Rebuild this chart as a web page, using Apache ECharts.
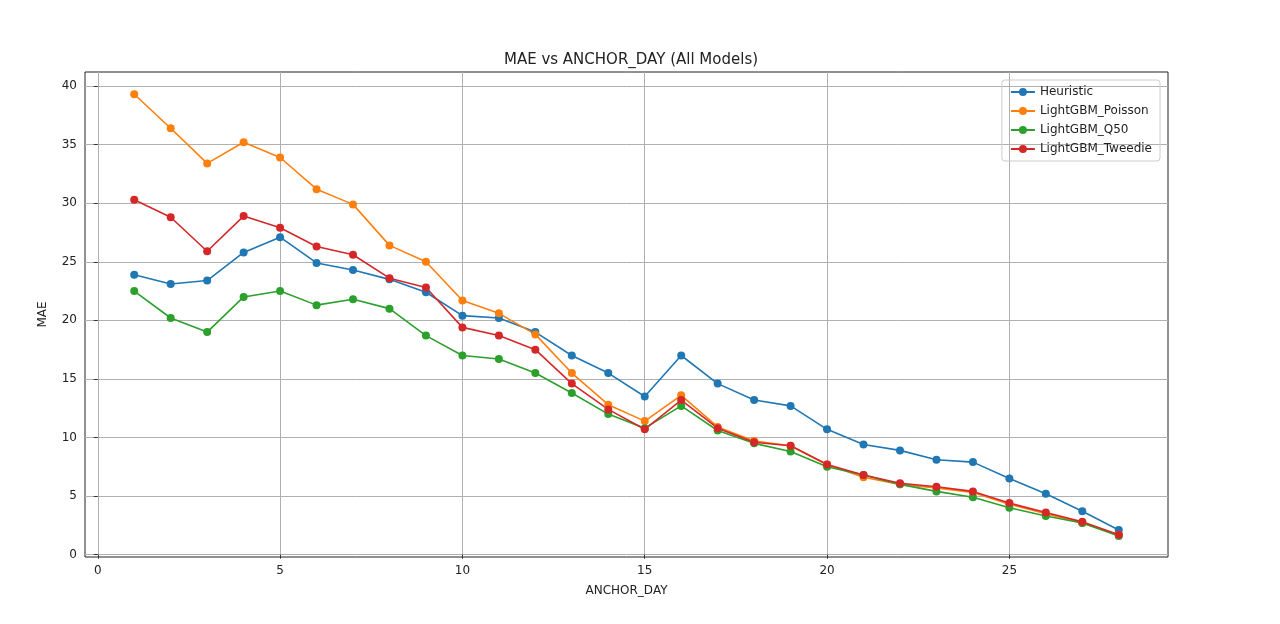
<!DOCTYPE html>
<html lang="en">
<head>
<meta charset="UTF-8">
<title>MAE vs ANCHOR_DAY</title>
<script src="https://cdn.jsdelivr.net/npm/echarts@6/dist/echarts.min.js"></script>
<style>
	html,body{margin:0;width:100%;height:100%;background:#fff;}
	#chart{width:1280px;height:624px;}
</style>
</head>
<body>
<div id="chart"></div>
<script>
	var days = [];
	for (var d = 1; d <= 28; d++) days.push(d);
	var xTicks = [0, 5, 10, 15, 20, 25];
	var yTicks = [0, 5, 10, 15, 20, 25, 30, 35, 40];

	var heuristic = [23.9, 23.1, 23.4, 25.8, 27.1, 24.9, 24.3, 23.5, 22.4, 20.4, 20.2, 19.0, 17.0, 15.5, 13.5, 17.0, 14.6, 13.2, 12.7, 10.7, 9.4, 8.9, 8.1, 7.9, 6.5, 5.2, 3.7, 2.1];
	var poisson = [39.3, 36.4, 33.4, 35.2, 33.9, 31.2, 29.9, 26.4, 25.0, 21.7, 20.6, 18.8, 15.5, 12.8, 11.4, 13.6, 10.9, 9.7, 9.3, 7.7, 6.6, 6.0, 5.7, 5.3, 4.3, 3.5, 2.7, 1.7];
	var q50 = [22.5, 20.2, 19.0, 22.0, 22.5, 21.3, 21.8, 21.0, 18.7, 17.0, 16.7, 15.5, 13.8, 12.0, 10.8, 12.7, 10.6, 9.5, 8.8, 7.5, 6.8, 6.0, 5.4, 4.9, 4.0, 3.3, 2.7, 1.6];
	var tweedie = [30.3, 28.8, 25.9, 28.9, 27.9, 26.3, 25.6, 23.6, 22.8, 19.4, 18.7, 17.5, 14.6, 12.4, 10.7, 13.2, 10.8, 9.6, 9.3, 7.7, 6.8, 6.1, 5.8, 5.4, 4.4, 3.6, 2.8, 1.7];

	var names = ['Heuristic', 'LightGBM_Poisson', 'LightGBM_Q50', 'LightGBM_Tweedie'];
	var colors = ['#1f77b4', '#ff7f0e', '#2ca02c', '#d62728'];
	var values = [heuristic, poisson, q50, tweedie];

	var myChart = echarts.init(document.getElementById('chart'));

	var series = [];
	for (var i = 0; i < names.length; i++) {
		series.push({
			name: names[i],
			type: 'line',
			data: days.map(function (x, j) { return [x, values[i][j]]; }),
			symbol: 'circle',
			symbolSize: 8,
			lineStyle: {width: 1.6},
			itemStyle: {color: colors[i]}
		});
	}

	var axisCommon = {
		axisLine: {show: false},
		axisTick: {show: true, length: 4, lineStyle: {color: '#333'}},
		axisLabel: {color: '#222', fontSize: 12, fontFamily: 'DejaVu Sans'},
		splitLine: {show: true, lineStyle: {color: '#b0b0b0', width: 1}},
		nameLocation: 'middle',
		nameTextStyle: {color: '#222', fontSize: 12, fontFamily: 'DejaVu Sans'}
	};

	myChart.setOption({
		animation: false,
		color: colors,
		title: {
			text: 'MAE vs ANCHOR_DAY (All Models)',
			left: 626, top: 48, textAlign: 'center',
			textStyle: {fontSize: 15, fontWeight: 'normal', color: '#222', fontFamily: 'DejaVu Sans'}
		},
		legend: {
			orient: 'vertical', right: 120, top: 80,
			padding: [6, 8], itemGap: 7,
			borderColor: '#ccc', borderWidth: 1, borderRadius: 3,
			itemWidth: 24, itemHeight: 10,
			textStyle: {fontSize: 12, color: '#222', fontFamily: 'DejaVu Sans'},
			data: names
		},
		grid: {left: 85, right: 112, top: 72, bottom: 67, show: true, borderColor: '#222', borderWidth: 1},
		xAxis: echarts.util.merge({
			type: 'value', min: -0.35, max: 29.35,
			name: 'ANCHOR_DAY', nameGap: 28,
			axisTick: {customValues: xTicks},
			axisLabel: {customValues: xTicks}
		}, axisCommon),
		yAxis: echarts.util.merge({
			type: 'value', min: -0.2, max: 41.2,
			name: 'MAE', nameGap: 36,
			axisTick: {customValues: yTicks},
			axisLabel: {customValues: yTicks}
		}, axisCommon),
		series: series
	});
</script>
</body>
</html>
